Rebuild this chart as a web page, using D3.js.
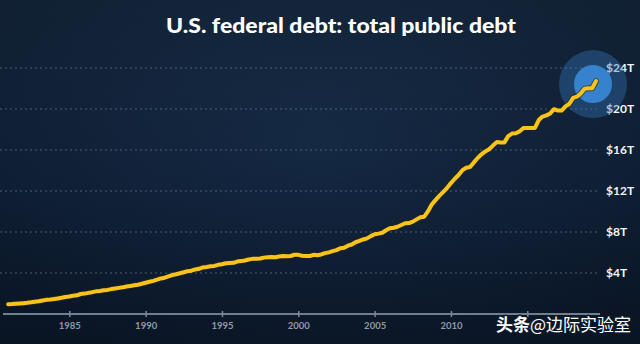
<!DOCTYPE html>
<html>
<head>
<meta charset="utf-8">
<script src="https://cdn.jsdelivr.net/npm/d3@7"></script>
<style>
  html, body { margin: 0; padding: 0; background: #0f1e30; }
  svg { display: block; }
</style>
</head>
<body>
<svg id="chart" width="640" height="344"></svg>
<script>
// ---- data (trillions of USD, quarterly) ----
const title = "U.S. federal debt: total public debt";
const years = [1981,1982,1983,1984,1985,1986,1987,1988,1989,1990,
               1991,1992,1993,1994,1995,1996,1997,1998,1999,2000,
               2001,2002,2003,2004,2005,2006,2007,2008,2009,2010,
               2011,2012,2013,2014,2015,2016,2017,2018,2019];
const debtQuarterly = [
  [0.96,0.97,1.00,1.03],[1.06,1.09,1.14,1.20],[1.24,1.32,1.38,1.41],[1.46,1.52,1.58,1.66],
  [1.71,1.78,1.82,1.95],[1.99,2.06,2.13,2.21],[2.25,2.31,2.35,2.43],[2.49,2.55,2.60,2.68],
  [2.74,2.80,2.86,2.95],[3.05,3.14,3.23,3.36],[3.47,3.54,3.67,3.80],[3.88,3.98,4.07,4.18],
  [4.23,4.35,4.41,4.54],[4.58,4.65,4.69,4.80],[4.86,4.95,4.97,4.99],[5.12,5.16,5.22,5.32],
  [5.38,5.38,5.41,5.50],[5.54,5.55,5.53,5.61],[5.65,5.64,5.66,5.78],[5.77,5.69,5.67,5.66],
  [5.77,5.73,5.81,5.94],[6.01,6.13,6.23,6.41],[6.46,6.67,6.78,7.00],[7.13,7.27,7.38,7.60],
  [7.78,7.84,7.93,8.17],[8.37,8.42,8.51,8.68],[8.85,8.87,9.01,9.23],[9.44,9.49,10.03,10.70],
  [11.13,11.55,11.91,12.31],[12.77,13.20,13.56,14.03],[14.27,14.34,14.79,15.22],[15.58,15.86,16.07,16.43],
  [16.77,16.74,16.74,17.35],[17.60,17.63,17.82,18.14],[18.15,18.15,18.15,18.92],[19.26,19.38,19.57,19.98],
  [19.85,19.85,20.25,20.49],[21.09,21.20,21.52,21.97],[22.03,22.02,22.72]
];
const xTicks = [1985, 1990, 1995, 2000, 2005, 2010, 2015];
const yTicks = [4, 8, 12, 16, 20, 24];
const yTickLabels = ["$4T", "$8T", "$12T", "$16T", "$20T", "$24T"];
const watermarkBold = "头条";
const watermarkRest = "@边际实验室";

// ---- build points ----
const points = [];
years.forEach((yr, i) => {
  debtQuarterly[i].forEach((v, q) => points.push({ t: yr + q * 0.25, v: v }));
});

const svg = d3.select("#chart");
const W = 640, H = 344;

// ---- background ----
const defs = svg.append("defs");
const bg = defs.append("linearGradient").attr("id", "bg").attr("x1", 0).attr("y1", 0).attr("x2", 0).attr("y2", 1);
bg.append("stop").attr("offset", "0%").attr("stop-color", "#16293f");
bg.append("stop").attr("offset", "55%").attr("stop-color", "#10223a");
bg.append("stop").attr("offset", "100%").attr("stop-color", "#0c192b");
svg.append("rect").attr("width", W).attr("height", H).attr("fill", "url(#bg)");
const vg = defs.append("radialGradient").attr("id", "vg").attr("cx", "50%").attr("cy", "40%").attr("r", "70%");
vg.append("stop").attr("offset", "0%").attr("stop-color", "#1c3352").attr("stop-opacity", 0.35);
vg.append("stop").attr("offset", "100%").attr("stop-color", "#050c16").attr("stop-opacity", 0.35);
svg.append("rect").attr("width", W).attr("height", H).attr("fill", "url(#vg)");

// ---- scales ----
const x = d3.scaleLinear().domain([1985, 2015]).range([69.3, 527.3]);
const y = d3.scaleLinear().domain([0, 24]).range([314, 68]);

// ---- gridlines ----
const grid = svg.append("g");
grid.selectAll("line").data(yTicks).join("line")
  .attr("x1", 0).attr("x2", 599)
  .attr("y1", d => y(d)).attr("y2", d => y(d))
  .attr("stroke", "#5d6d82").attr("stroke-width", 1)
  .attr("stroke-dasharray", "2,3").attr("opacity", 0.8);

grid.selectAll("text").data(yTicks).join("text")
  .attr("x", 606).attr("y", d => y(d)).attr("dy", "0.36em")
  .attr("fill", "#f2f4f7")
  .attr("font-family", "Lato, 'Open Sans', sans-serif")
  .attr("font-weight", 700).attr("font-size", 12)
  .text((d, i) => yTickLabels[i]);

// ---- x axis ----
svg.append("line").attr("x1", 3).attr("x2", 600).attr("y1", y(0)).attr("y2", y(0))
  .attr("stroke", "#6f7f92").attr("stroke-width", 2);
const xAxis = svg.append("g").attr("transform", `translate(0,${y(0)})`)
  .call(d3.axisBottom(x).tickValues(xTicks).tickFormat(d3.format("d")).tickSize(3));
xAxis.select(".domain").remove();
xAxis.selectAll(".tick line").attr("y1", -3).attr("y2", 3).attr("stroke", "#7a899b").attr("stroke-width", 1.5);
xAxis.selectAll(".tick text")
  .attr("y", 12).attr("dy", "0.36em")
  .attr("fill", "#8e9bab")
  .attr("font-family", "Lato, 'Open Sans', sans-serif")
  .attr("font-weight", 700).attr("font-size", 9.5);

// ---- glow at the latest point ----
const last = points[points.length - 1];
const gx = x(last.t) - 3, gy = y(last.v) + 3;
svg.append("circle").attr("cx", gx).attr("cy", gy).attr("r", 34)
  .attr("fill", "#3578bd").attr("opacity", 0.38);
svg.append("circle").attr("cx", gx).attr("cy", gy).attr("r", 19)
  .attr("fill", "#3a8ad8").attr("opacity", 0.9);

// ---- line ----
const line = d3.line().x(d => x(d.t)).y(d => y(d.v)).curve(d3.curveLinear);
svg.append("path").datum(points).attr("d", line)
  .attr("fill", "none").attr("stroke", "#2a2410").attr("stroke-opacity", 0.6)
  .attr("stroke-width", 6).attr("stroke-linejoin", "round").attr("stroke-linecap", "round");
svg.append("path").datum(points).attr("d", line)
  .attr("fill", "none").attr("stroke", "#f7c31d")
  .attr("stroke-width", 4).attr("stroke-linejoin", "round").attr("stroke-linecap", "round");

// ---- title ----
svg.append("text").attr("x", 341).attr("y", 33).attr("text-anchor", "middle")
  .attr("fill", "#ffffff")
  .attr("font-family", "Lato, 'Open Sans', sans-serif")
  .attr("font-weight", 900).attr("font-size", 21)
  .attr("textLength", 350).attr("lengthAdjust", "spacingAndGlyphs")
  .text(title);

// ---- watermark ----
const wm = svg.append("text").attr("x", 496).attr("y", 331)
  .attr("font-family", "'Noto Sans CJK SC', sans-serif").attr("font-size", 17)
  .attr("fill", "#ffffff")
  .attr("stroke", "#0e1a2a").attr("stroke-width", 3).attr("paint-order", "stroke")
  .attr("stroke-linejoin", "round");
wm.append("tspan").attr("font-weight", 700).text(watermarkBold);
wm.append("tspan").attr("font-weight", 400).text(watermarkRest);
</script>
</body>
</html>
